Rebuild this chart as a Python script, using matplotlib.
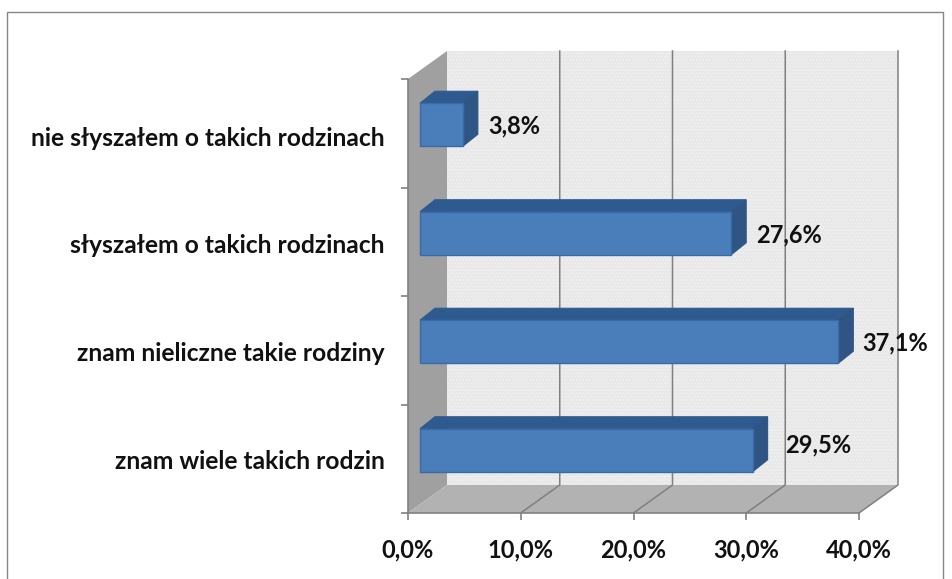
# -*- coding: utf-8 -*-
"""3D-look horizontal bar chart, depth faked with polygons offset in data units."""
import matplotlib
matplotlib.use('Agg')
import matplotlib.pyplot as plt
from matplotlib.patches import Polygon, Rectangle

categories = ['znam wiele takich rodzin', 'znam nieliczne takie rodziny',
              'słyszałem o takich rodzinach', 'nie słyszałem o takich rodzinach']
values = [29.5, 37.1, 27.6, 3.8]
value_labels = ['29,5%', '37,1%', '27,6%', '3,8%']
x_ticks = [0, 10, 20, 30, 40]
x_tick_labels = ['0,0%', '10,0%', '20,0%', '30,0%', '40,0%']

W, H = 952, 579
PX_X = 451 / 40      # px per % on x
PX_Y = 434 / 4       # px per category on y
DX, DY = 39 / PX_X, 28 / PX_Y          # wall depth
BAR_X, BAR_Y = 12 / PX_X, 8.5 / PX_Y   # bar front plane, relative to the axis plane
BAR_DX, BAR_DY = 15 / PX_X, 12 / PX_Y  # bar depth
BAR_H = 43 / PX_Y
LABEL_OFFSETS = [(12.5, 4), (6.5, -1), (7.5, -1), (7.5, -1)]  # points, labels sit unevenly in the original
CAT_LABEL_Y = [0.49, 1.49, 2.48, 3.47]  # category labels are not quite centred either

plt.rcParams['font.family'] = ['Lato', 'DejaVu Sans']
plt.rcParams['font.weight'] = 'bold'

fig = plt.figure(figsize=(W / 100, H / 100), dpi=100)
ax = fig.add_axes([408 / W, (H - 513) / H, 451 / W, 434 / H])
ax.set_xlim(0, 40)
ax.set_ylim(0, 4)
ax.patch.set_visible(False)

# chart frame (bottom edge falls outside the picture)
fig.add_artist(Rectangle((7 / W, -0.02), 936 / W, 1.02 - 12 / H, transform=fig.transFigure,
                         fill=False, ec='#868686', lw=1))


def poly(pts, **kw):
    ax.add_patch(Polygon(pts, closed=True, clip_on=False, **kw))


# walls
poly([(DX, DY), (40 + DX, DY), (40 + DX, 4 + DY), (DX, 4 + DY)], fc='#E8E8E8', ec='none', zorder=1)
ax.add_patch(Rectangle((DX, DY), 40, 4, fill=False, hatch='.....', ec='#F1F1F1', lw=0,
                       clip_on=False, zorder=1.1))
poly([(0, 0), (DX, DY), (DX, 4 + DY), (0, 4)], fc='#A0A0A0', ec='none', zorder=1.2)
poly([(0, 0), (40, 0), (40 + DX, DY), (DX, DY)], fc='#B2B2B2', ec='none', zorder=1.2)

# grid lines on back wall and floor
for t in x_ticks[1:]:
    ax.plot([t, t + DX, t + DX], [0, DY, 4 + DY], color='#808080', lw=1.1, clip_on=False, zorder=1.5)

# bars
for i, (v, lab) in enumerate(zip(values, value_labels)):
    y0 = i + 0.5 + BAR_Y - BAR_H / 2
    y1 = y0 + BAR_H
    x0 = BAR_X
    x1 = BAR_X + v
    poly([(x0, y1), (x1, y1), (x1 + BAR_DX, y1 + BAR_DY), (x0 + BAR_DX, y1 + BAR_DY)],
         fc='#2F5A8F', ec='#2F5A8F', lw=0.8, zorder=3)
    poly([(x1, y0), (x1 + BAR_DX, y0 + BAR_DY), (x1 + BAR_DX, y1 + BAR_DY), (x1, y1)],
         fc='#2F5584', ec='#2F5584', lw=0.8, zorder=3)
    ax.add_patch(Rectangle((x0, y0), v, BAR_H, fc='#4A7EBB', ec='#3A6AA5', lw=1,
                           clip_on=False, zorder=3.5))
    ax.annotate(lab, (x1 + BAR_DX, i + 0.5 + BAR_Y), xytext=LABEL_OFFSETS[i], textcoords='offset points',
                ha='left', va='center', fontsize=17, color='#111111', zorder=5,
                annotation_clip=False)

# axes
for s in ('top', 'right'):
    ax.spines[s].set_visible(False)
for s in ('left', 'bottom'):
    ax.spines[s].set_color('#808080')
    ax.spines[s].set_linewidth(1.2)
    ax.spines[s].set_zorder(2)
ax.set_xticks(x_ticks)
ax.set_xticklabels(x_tick_labels, fontsize=17, color='#111111')
ax.set_yticks(range(5))
ax.set_yticklabels([])
ax.set_yticks(CAT_LABEL_Y, minor=True)
ax.set_yticklabels(categories, minor=True, fontsize=17.7, color='#111111')
ax.tick_params(axis='both', which='major', length=5, width=1.2, color='#808080')
ax.tick_params(axis='x', pad=13)
ax.tick_params(axis='y', which='minor', length=0, pad=17)

fig.savefig('out.png', dpi=100)
